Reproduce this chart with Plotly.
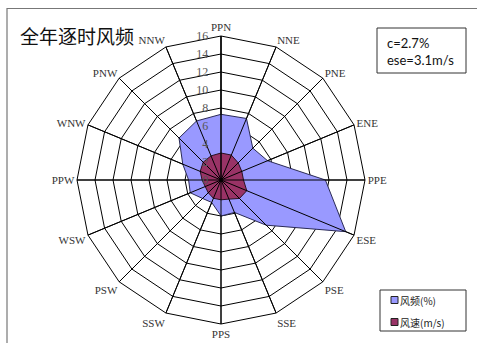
import plotly.graph_objects as go

# 16 compass sectors, clockwise from north
directions = ["PPN", "NNE", "PNE", "ENE", "PPE", "ESE", "PSE", "SSE",
              "PPS", "SSW", "PSW", "WSW", "PPW", "WNW", "PNW", "NNW"]
freq_pct = [7.3, 7.4, 5.0, 5.6, 11.6, 15.0, 7.1, 3.9,
            4.0, 2.7, 2.9, 3.7, 3.6, 4.6, 6.6, 7.1]
speed_ms = [3.0, 3.0, 2.7, 2.5, 2.5, 3.1, 2.9, 2.3,
            2.2, 2.2, 2.0, 1.9, 2.1, 2.5, 2.8, 2.9]
series_names = ["风频(%)", "风速(m/s)"]
radial_ticks = [0, 2, 4, 6, 8, 10, 12, 14, 16]
calm_text = "c=2.7%"
max_speed_text = "ese=3.1m/s"
title_text = "全年逐时风频"

W, H = 477, 343
r_max = radial_ticks[-1]

fig = go.Figure()

def closed(vals):
    return list(vals) + [vals[0]]

theta_closed = closed(directions)

fig.add_trace(go.Scatterpolar(
    r=closed(freq_pct), theta=theta_closed, mode="lines", fill="toself",
    fillcolor="#9999FF", line=dict(color="#2a2a55", width=1),
    name=series_names[0], showlegend=False, hoverinfo="skip"))
fig.add_trace(go.Scatterpolar(
    r=closed(speed_ms), theta=theta_closed, mode="lines", fill="toself",
    fillcolor="#993366", line=dict(color="#2a1020", width=1),
    name=series_names[1], showlegend=False, hoverinfo="skip"))

# spokes drawn over the filled areas
for d in directions:
    fig.add_trace(go.Scatterpolar(
        r=[0, r_max], theta=[d, d], mode="lines",
        line=dict(color="#000000", width=1),
        showlegend=False, hoverinfo="skip"))

def px_x(x):
    return x / W

def px_y(y):
    return 1 - y / H

cx, cy, rad = 221, 180, 144

fig.update_layout(
    width=W, height=H,
    margin=dict(l=0, r=0, t=0, b=0),
    paper_bgcolor="white",
    plot_bgcolor="white",
    showlegend=False,
    polar=dict(
        domain=dict(x=[px_x(cx - rad), px_x(cx + rad)],
                    y=[px_y(cy + rad), px_y(cy - rad)]),
        gridshape="linear",
        bgcolor="white",
        radialaxis=dict(
            range=[0, r_max], tickvals=radial_ticks,
            ticktext=[str(v) for v in radial_ticks],
            angle=90, tickangle=90, side="counterclockwise",
            showline=True, linecolor="black", linewidth=1,
            gridcolor="black", gridwidth=1,
            ticks="outside", ticklen=8, tickcolor="rgba(0,0,0,0)",
            tickfont=dict(family="Liberation Serif", size=12, color="#555555"),
            layer="above traces"),
        angularaxis=dict(
            type="category", categoryarray=directions,
            rotation=90, direction="clockwise",
            showline=True, linecolor="black", linewidth=1,
            gridcolor="black", gridwidth=1, ticks="",
            tickfont=dict(family="Liberation Serif", size=11, color="#333333")),
    ),
)

shapes = []
annotations = []

# outer chart frame
shapes.append(dict(type="rect", xref="paper", yref="paper",
                   x0=px_x(7), x1=px_x(490), y0=px_y(360), y1=px_y(8.5),
                   line=dict(color="#777777", width=1.2)))

annotations.append(dict(text=title_text, xref="paper", yref="paper",
                        x=px_x(18), y=px_y(35), xanchor="left", yanchor="middle",
                        showarrow=False,
                        font=dict(family="Noto Sans CJK SC", size=19, color="#111111")))

# info box
shapes.append(dict(type="rect", xref="paper", yref="paper",
                   x0=px_x(377), x1=px_x(466), y0=px_y(73), y1=px_y(28),
                   line=dict(color="#333333", width=1), fillcolor="white"))
annotations.append(dict(text=calm_text + "<br>" + max_speed_text,
                        xref="paper", yref="paper",
                        x=px_x(385), y=px_y(51), xanchor="left", yanchor="middle",
                        align="left", showarrow=False,
                        font=dict(family="Lato", size=13, color="#111111")))

# legend box
shapes.append(dict(type="rect", xref="paper", yref="paper",
                   x0=px_x(380), x1=px_x(466), y0=px_y(331), y1=px_y(290),
                   line=dict(color="#333333", width=1), fillcolor="white"))
legend_colors = ["#9999FF", "#993366"]
for i, (name, col) in enumerate(zip(series_names, legend_colors)):
    yc = 300 + 22 * i
    shapes.append(dict(type="rect", xref="paper", yref="paper",
                       x0=px_x(391), x1=px_x(398), y0=px_y(yc + 3.5), y1=px_y(yc - 3.5),
                       line=dict(color="#222222", width=1), fillcolor=col))
    annotations.append(dict(text=name, xref="paper", yref="paper",
                            x=px_x(398), y=px_y(yc), xanchor="left", yanchor="middle",
                            showarrow=False,
                            font=dict(family="Noto Sans CJK SC", size=10, color="#222222")))

fig.update_layout(shapes=shapes, annotations=annotations)

fig.write_html("out.html")
